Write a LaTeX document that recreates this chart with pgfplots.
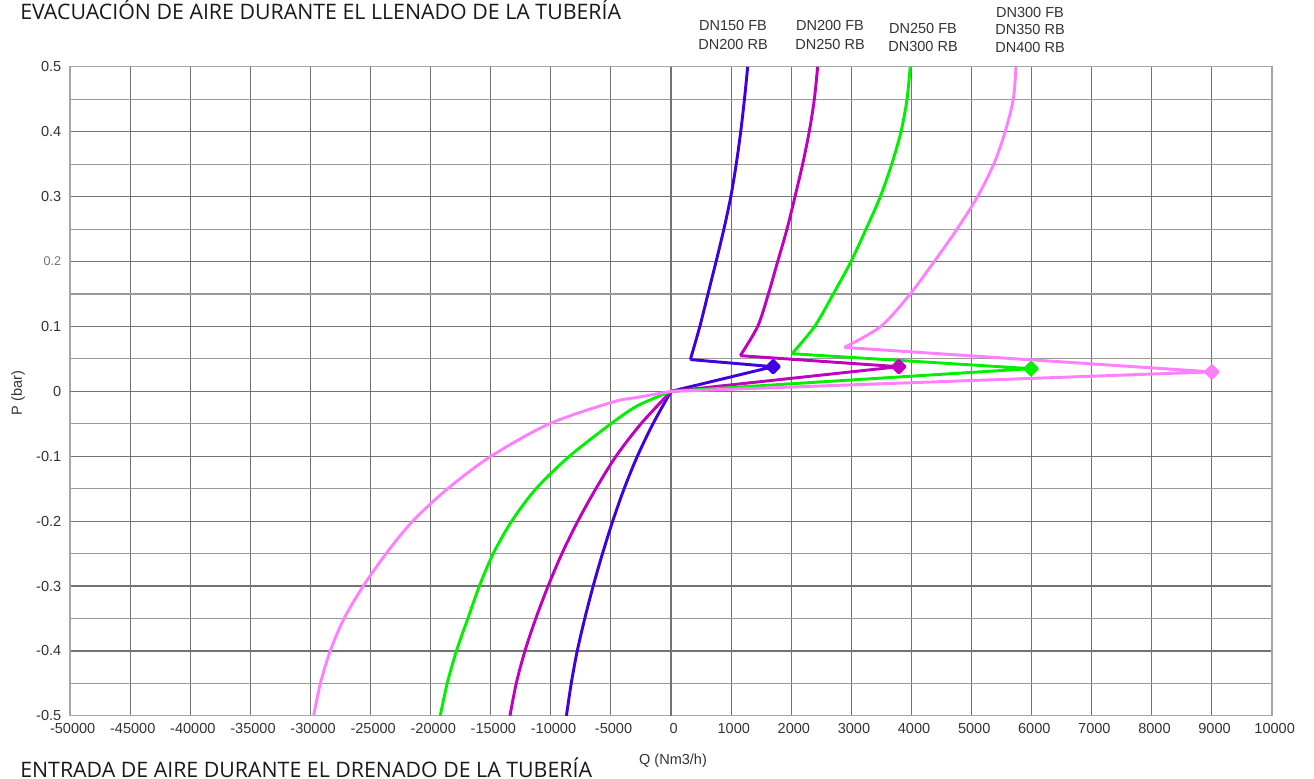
\documentclass[border=0pt]{standalone}
\usepackage{pgfplots}
\pgfplotsset{compat=1.18}
\usepackage{fontspec}
\setmainfont{Liberation Sans}
\newfontfamily\titlefont{Open Sans}

\definecolor{cBlue}{HTML}{3F00E0}
\definecolor{cMag}{HTML}{BF00BF}
\definecolor{cGreen}{HTML}{00F000}
\definecolor{cPink}{HTML}{FF80FF}
\definecolor{cText}{HTML}{333333}

\begin{document}
\begin{tikzpicture}
% page frame, in pixel-like units
\begin{scope}[x=0.75pt,y=-0.75pt]
\path[use as bounding box] (0,0) rectangle (1314,769);
\end{scope}

\begin{axis}[
  at={(52.5pt,-535.5pt)}, anchor=south west,
  scale only axis, width=901.5pt, height=486.75pt,
  xmin=-10, xmax=10, ymin=-0.5, ymax=0.5,
  % negative flows on a 5000 step, positive flows on a 1000 step
  x filter/.expression={x<0 ? x/5000 : x/1000},
  xtick={-10,-9,-8,-7,-6,-5,-4,-3,-2,-1,0,1,2,3,4,5,6,7,8,9,10},
  xticklabels={-50000,-45000,-40000,-35000,-30000,-25000,-20000,-15000,-10000,-5000,0,1000,2000,3000,4000,5000,6000,7000,8000,9000,10000},
  ytick={-0.5,-0.4,-0.3,-0.2,-0.1,0,0.1,0.2,0.3,0.4,0.5},
  yticklabels={-0.5,-0.4,-0.3,-0.2,-0.1,0,0.1,{\color{black!55}\fontsize{9.5}{10}\selectfont 0.2},0.3,0.4,0.5},
  minor ytick={-0.45,-0.35,-0.25,-0.15,-0.05,0.05,0.15,0.25,0.35,0.45},
  minor xtick={},
  grid=both,
  major grid style={black!55, line width=0.85pt},
  minor grid style={black!40, line width=0.85pt},
  axis line style={black!35, line width=0.85pt},
  major tick length=0pt, minor tick length=0pt,
  tick label style={font=\fontsize{10.9}{12}\selectfont, text=cText},
  xticklabel style={xshift=2pt, yshift=-2pt},
  yticklabel style={xshift=-3pt},
  extra x ticks={0}, extra x tick labels={},
  extra x tick style={grid style={black, line width=2.6pt}},
  extra y ticks={0}, extra y tick labels={},
  extra y tick style={grid style={black, line width=2.6pt}},
  every axis plot/.append style={line width=2.2pt, line join=round},
]

% DN150 FB / DN200 RB
\addplot[cBlue, mark=square*, mark indices={2}, mark size=3.3pt, mark options={rotate=45, solid}]
  coordinates {(0,0) (1700,0.038) (322,0.049)};
\addplot[cBlue, smooth] coordinates {
  (322,0.049) (480,0.1) (615,0.15) (750,0.2) (880,0.25) (995,0.3)
  (1085,0.35) (1160,0.4) (1222,0.45) (1276,0.5)};
\addplot[cBlue, smooth] coordinates {
  (0,0) (-1500,-0.05) (-2800,-0.1) (-3900,-0.15) (-4850,-0.2) (-5700,-0.25)
  (-6475,-0.3) (-7175,-0.35) (-7800,-0.4) (-8300,-0.45) (-8700,-0.5)};

% DN200 FB / DN250 RB
\addplot[cMag, mark=square*, mark indices={2}, mark size=3.3pt, mark options={rotate=45, solid}]
  coordinates {(0,0) (3790,0.038) (1153,0.055)};
\addplot[cMag, smooth] coordinates {
  (1153,0.055) (1442,0.1) (1620,0.15) (1775,0.2) (1930,0.25) (2063,0.3)
  (2190,0.35) (2300,0.4) (2385,0.45) (2440,0.5)};
\addplot[cMag, smooth] coordinates {
  (0,0) (-2500,-0.05) (-4575,-0.1) (-6250,-0.15) (-7750,-0.2) (-9075,-0.25)
  (-10225,-0.3) (-11250,-0.35) (-12150,-0.4) (-12875,-0.45) (-13400,-0.5)};

% DN250 FB / DN300 RB
\addplot[cGreen, mark=square*, mark indices={2}, mark size=3.3pt, mark options={rotate=45, solid}]
  coordinates {(0,0) (5990,0.035) (2013,0.058)};
\addplot[cGreen, smooth] coordinates {
  (2013,0.058) (2390,0.1) (2700,0.15) (2995,0.2) (3245,0.25) (3483,0.3)
  (3672,0.35) (3827,0.4) (3927,0.45) (3980,0.5)};
\addplot[cGreen, smooth] coordinates {
  (0,0) (-2770,-0.022) (-5000,-0.05) (-8450,-0.1) (-11230,-0.15) (-13250,-0.2)
  (-14790,-0.25) (-15940,-0.3) (-16900,-0.35) (-17850,-0.4) (-18620,-0.45) (-19200,-0.5)};

% DN300 FB / DN350 RB / DN400 RB
\addplot[cPink, mark=square*, mark indices={2}, mark size=3.3pt, mark options={rotate=45, solid}]
  coordinates {(0,0) (9000,0.030) (2884,0.0677)};
\addplot[cPink, smooth] coordinates {
  (2884,0.0677) (3490,0.1) (3980,0.15) (4380,0.2) (4760,0.25) (5100,0.3)
  (5370,0.35) (5560,0.4) (5695,0.45) (5740,0.5)};
\addplot[cPink, smooth] coordinates {
  (0,0) (-2700,-0.009) (-4850,-0.0165) (-10120,-0.05) (-14980,-0.1) (-18580,-0.15)
  (-21490,-0.2) (-23700,-0.25) (-25600,-0.3) (-27200,-0.35) (-28350,-0.4)
  (-29170,-0.45) (-29730,-0.5)};
\end{axis}

\begin{scope}[x=0.75pt,y=-0.75pt, font=\fontsize{10.9}{13}\selectfont, text=cText]
\node at (733,24) {DN150 FB};
\node at (733,43) {DN200 RB};
\node at (830,24) {DN200 FB};
\node at (830,43) {DN250 RB};
\node at (923,27) {DN250 FB};
\node at (923,45) {DN300 RB};
\node at (1030,11) {DN300 FB};
\node at (1030,28) {DN350 RB};
\node at (1030,46) {DN400 RB};
\node[rotate=90] at (18,391) {P (bar)};
\node at (673,759) {Q (Nm3/h)};
\node[anchor=base west, inner sep=0pt, text=black!90, font=\titlefont\fontsize{16}{19}\selectfont] at (20,18)
  {EVACUACIÓN DE AIRE DURANTE EL LLENADO DE LA TUBERÍA};
\node[anchor=base west, inner sep=0pt, text=black!90, font=\titlefont\fontsize{16}{19}\selectfont] at (20,776)
  {ENTRADA DE AIRE DURANTE EL DRENADO DE LA TUBERÍA};
\end{scope}
\end{tikzpicture}
\end{document}
